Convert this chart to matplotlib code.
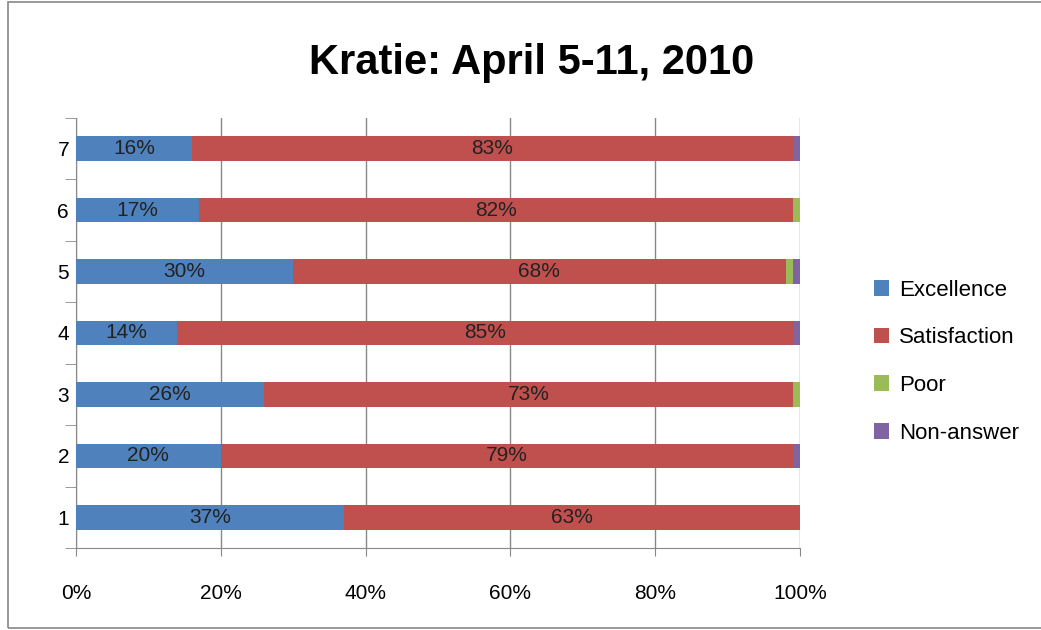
import matplotlib.pyplot as plt
from matplotlib.patches import Rectangle
import numpy as np

categories = ["1", "2", "3", "4", "5", "6", "7"]
excellence = [37, 20, 26, 14, 30, 17, 16]
satisfaction = [63, 79, 73, 85, 68, 82, 83]
poor = [0, 0, 1, 0, 1, 1, 0]
non_answer = [0, 1, 0, 1, 1, 0, 1]

series = [("Excellence", excellence, "#4f81bd"),
          ("Satisfaction", satisfaction, "#c0504d"),
          ("Poor", poor, "#9bbb59"),
          ("Non-answer", non_answer, "#8064a2")]

plt.rcParams['font.family'] = ['Liberation Sans Narrow', 'Liberation Sans', 'DejaVu Sans']

fig = plt.figure(figsize=(10.41, 6.3), dpi=100)
ax = fig.add_axes([0.073, 0.130, 0.6955, 0.683])

y = np.arange(1, len(categories) + 1)
left = np.zeros(len(categories))
for name, vals, col in series:
    vals = np.array(vals, dtype=float)
    ax.barh(y, vals, left=left, height=0.4, color=col, label=name, zorder=3)
    if name in ("Excellence", "Satisfaction"):
        for yi, l, v in zip(y, left, vals):
            ax.text(l + v / 2, yi, "%d%%" % v, ha="center", va="center",
                    fontsize=15, color="#222222", zorder=4)
    left += vals

ax.set_xlim(0, 100)
ax.set_ylim(0.5, 7.5)
ax.set_xticks(np.arange(0, 101, 20))
ax.set_xticklabels(["%d%%" % v for v in range(0, 101, 20)], fontsize=15)
ax.set_yticks(y)
ax.set_yticklabels(categories, fontsize=15)
ax.set_yticks(np.arange(0.5, 7.6, 1), minor=True)
ax.tick_params(axis="y", which="major", length=0, pad=5)
ax.tick_params(axis="y", which="minor", length=8, color="#888888")
ax.tick_params(axis="x", length=6, color="#888888", pad=20)
ax.grid(axis="x", color="#888888", linewidth=1, zorder=0)
for s in ["top", "right"]:
    ax.spines[s].set_visible(False)
for s in ["left", "bottom"]:
    ax.spines[s].set_color("#888888")

fig.text(0.511, 0.900, "Kratie: April 5-11, 2010", ha="center", va="center",
         fontsize=30, fontweight="bold")

fig.legend(loc="center left", bbox_to_anchor=(0.820, 0.426), frameon=False,
           fontsize=16, labelspacing=1.2, handlelength=0.7, handleheight=0.7,
           handletextpad=0.45)

fig.patches.append(Rectangle((0.008, 0.003), 1.0, 0.994, transform=fig.transFigure,
                             fill=False, edgecolor="#888888", linewidth=1.2))

fig.savefig("out.png", dpi=100)
